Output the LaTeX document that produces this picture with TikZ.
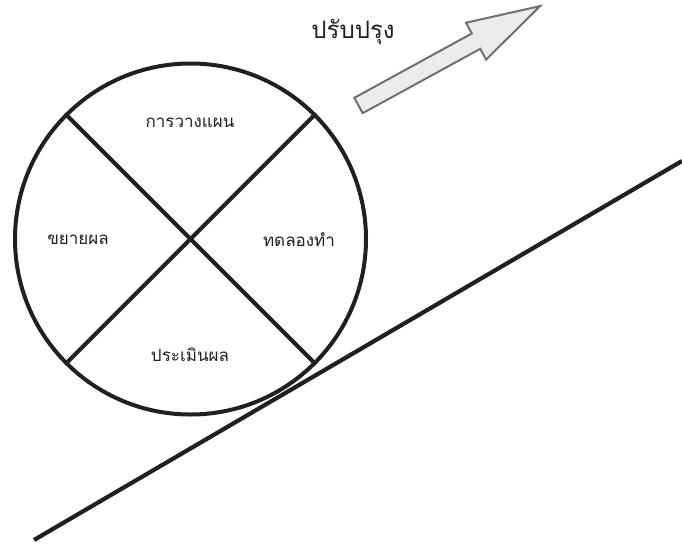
\documentclass[tikz,border=0pt]{standalone}
\usepackage{fontspec}
\newfontfamily\thaifont[Script=Thai]{Loma}
\definecolor{pdline}{RGB}{35,31,32}
\definecolor{pdarrowfill}{RGB}{236,236,236}
\definecolor{pdarrowline}{RGB}{112,112,112}
\usetikzlibrary{positioning, calc}

\begin{document}
\begin{tikzpicture}[x=1pt, y=-1pt,
  wheelline/.style={pdline, line width=4pt},
  steplabel/.style={font=\thaifont\fontsize{17}{20}\selectfont, text=pdline, inner sep=0pt}]

\useasboundingbox (0,0) rectangle (682,544);

% --- Slope (tangent line) ---
\coordinate (slopelow) at (34,540);
\coordinate (slopehigh) at (682,161);
\draw[wheelline, line width=4.2pt] (slopelow) -- (slopehigh);

% --- PDCA wheel ---
\node[draw=pdline, line width=4pt, circle, minimum size=351pt, inner sep=0pt, fill=white] (wheel) at (190.5,239) {};
\draw[wheelline] (wheel.north west) -- (wheel.south east);
\draw[wheelline] (wheel.north east) -- (wheel.south west);

% Step labels
\node[steplabel] (plan) at (190,123) {การวางแผน};
\node[steplabel] (doit) at (299,240) {ทดลองทำ};
\node[steplabel] (check) at (190,355) {ประเมินผล};
\node[steplabel] (act) at (78,240) {ขยายผล};

% --- Improvement arrow ---
\begin{scope}[shift={(358.5,105.5)}, rotate=28.7]
  \draw[fill=pdarrowfill, draw=pdarrowline, line width=2pt, line join=miter]
    (0,-8.75) -- (134,-8.75) -- (134,-21) -- (207,0) -- (134,21) -- (134,8.75) -- (0,8.75) -- cycle;
\end{scope}
\node[font=\thaifont\fontsize{24}{28}\selectfont, text=pdline, inner sep=0pt] (improve) at (353,32) {ปรับปรุง};

\end{tikzpicture}
\end{document}
